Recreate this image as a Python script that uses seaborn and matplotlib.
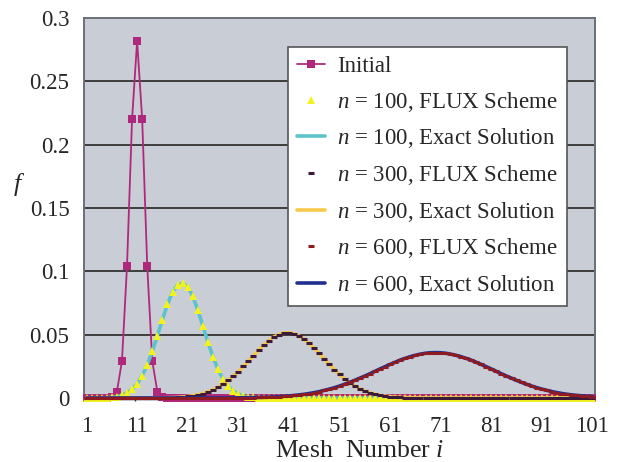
import numpy as np
import pandas as pd
import matplotlib
matplotlib.use("Agg")
import matplotlib.pyplot as plt
import seaborn as sns

# ---------------- data ----------------
mesh = list(range(1, 102))
xtick_labels = ["1", "11", "21", "31", "41", "51", "61", "71", "81", "91", "101"]
ytick_values = [0, 0.05, 0.1, 0.15, 0.2, 0.25, 0.3]
ytick_labels = ["0", "0.05", "0.1", "0.15", "0.2", "0.25", "0.3"]

initial = [
    0, 0, 0, 0, 0, 0.0005, 0.005, 0.029, 0.104, 0.220,
    0.282, 0.220, 0.104, 0.029, 0.005, 0.0005, 0, 0, 0, 0,
    0, 0, 0, 0, 0, 0, 0, 0, 0, 0,
    0, 0, 0, 0, 0, 0, 0, 0, 0, 0,
    0, 0, 0, 0, 0, 0, 0, 0, 0, 0,
    0, 0, 0, 0, 0, 0, 0, 0, 0, 0,
    0, 0, 0, 0, 0, 0, 0, 0, 0, 0,
    0, 0, 0, 0, 0, 0, 0, 0, 0, 0,
    0, 0, 0, 0, 0, 0, 0, 0, 0, 0,
    0, 0, 0, 0, 0, 0, 0, 0, 0, 0,
    0,
]

exact_100 = [
    0, 0, 0, 0.0001, 0.0002, 0.0005, 0.0011, 0.0021, 0.0039, 0.0068,
    0.0113, 0.0177, 0.0262, 0.0369, 0.0491, 0.0619, 0.0740, 0.0838, 0.0890, 0.0905,
    0.0880, 0.0803, 0.0694, 0.0568, 0.0440, 0.0324, 0.0225, 0.0149, 0.0093, 0.0055,
    0.0031, 0.0016, 0.0008, 0.0004, 0.0002, 0.0001, 0, 0, 0, 0,
    0, 0, 0, 0, 0, 0, 0, 0, 0, 0,
    0, 0, 0, 0, 0, 0, 0, 0, 0, 0,
    0, 0, 0, 0, 0, 0, 0, 0, 0, 0,
    0, 0, 0, 0, 0, 0, 0, 0, 0, 0,
    0, 0, 0, 0, 0, 0, 0, 0, 0, 0,
    0, 0, 0, 0, 0, 0, 0, 0, 0, 0,
    0,
]

exact_300 = [
    0, 0, 0, 0, 0, 0, 0, 0, 0, 0,
    0, 0, 0, 0, 0, 0.0001, 0.0002, 0.0003, 0.0005, 0.0008,
    0.0012, 0.0018, 0.0025, 0.0035, 0.0048, 0.0065, 0.0085, 0.0109, 0.0138, 0.0171,
    0.0208, 0.0249, 0.0291, 0.0334, 0.0377, 0.0416, 0.0451, 0.0480, 0.0501, 0.0513,
    0.0515, 0.0507, 0.0489, 0.0464, 0.0431, 0.0393, 0.0352, 0.0309, 0.0266, 0.0224,
    0.0186, 0.0151, 0.0120, 0.0094, 0.0072, 0.0054, 0.0040, 0.0029, 0.0021, 0.0014,
    0.0010, 0.0006, 0.0004, 0.0003, 0.0002, 0.0001, 0, 0, 0, 0,
    0, 0, 0, 0, 0, 0, 0, 0, 0, 0,
    0, 0, 0, 0, 0, 0, 0, 0, 0, 0,
    0, 0, 0, 0, 0, 0, 0, 0, 0, 0,
    0,
]

exact_600 = [
    0, 0, 0, 0, 0, 0, 0, 0, 0, 0,
    0, 0, 0, 0, 0, 0, 0, 0, 0, 0,
    0, 0, 0, 0, 0, 0, 0, 0, 0, 0.0001,
    0.0001, 0.0002, 0.0002, 0.0003, 0.0004, 0.0005, 0.0006, 0.0008, 0.0010, 0.0013,
    0.0016, 0.0020, 0.0024, 0.0029, 0.0035, 0.0042, 0.0050, 0.0060, 0.0070, 0.0081,
    0.0094, 0.0108, 0.0123, 0.0139, 0.0156, 0.0173, 0.0191, 0.0210, 0.0229, 0.0247,
    0.0265, 0.0282, 0.0299, 0.0313, 0.0326, 0.0337, 0.0346, 0.0353, 0.0357, 0.0358,
    0.0357, 0.0353, 0.0346, 0.0337, 0.0326, 0.0313, 0.0299, 0.0282, 0.0265, 0.0247,
    0.0229, 0.0210, 0.0191, 0.0173, 0.0156, 0.0139, 0.0123, 0.0108, 0.0094, 0.0081,
    0.0070, 0.0060, 0.0050, 0.0042, 0.0035, 0.0029, 0.0024, 0.0020, 0.0016, 0.0013,
    0.0011,
]

# FLUX scheme results coincide with the exact solutions in the picture
flux_100 = list(exact_100)
flux_300 = list(exact_300)
flux_600 = list(exact_600)

labels = [
    "Initial",
    "$n$ = 100, FLUX Scheme",
    "$n$ = 100, Exact Solution",
    "$n$ = 300, FLUX Scheme",
    "$n$ = 300, Exact Solution",
    "$n$ = 600, FLUX Scheme",
    "$n$ = 600, Exact Solution",
]

# ---------------- style ----------------
sns.set_style("ticks")
plt.rcParams["font.family"] = ["Liberation Serif", "DejaVu Serif"]
plt.rcParams["mathtext.fontset"] = "custom"
plt.rcParams["mathtext.rm"] = "Liberation Serif"
plt.rcParams["mathtext.it"] = "Liberation Serif:italic"

FS = 16.5
fig = plt.figure(figsize=(6.19, 4.62), dpi=100)
ax = fig.add_axes([84 / 619, 1 - 400.5 / 462, (595 - 84) / 619, (400.5 - 18) / 462])
ax.set_facecolor("#c9cdd5")

df_init = pd.DataFrame({"i": mesh, "f": initial})
df_e100 = pd.DataFrame({"i": mesh, "f": exact_100})
df_f100 = pd.DataFrame({"i": mesh, "f": flux_100})
df_e300 = pd.DataFrame({"i": mesh, "f": exact_300})
df_f300 = pd.DataFrame({"i": mesh, "f": flux_300})
df_e600 = pd.DataFrame({"i": mesh, "f": exact_600})
df_f600 = pd.DataFrame({"i": mesh, "f": flux_600})

c_init = "#b0287c"
c_f100 = "#f2f21e"
c_e100 = "#5ec2cc"
c_f300 = "#3b1a3c"
c_e300 = "#f6c94c"
c_f600 = "#8e1b22"
c_e600 = "#203090"

sns.lineplot(data=df_init, x="i", y="f", ax=ax, color=c_init, lw=1.3,
             marker="s", markersize=5.5, markeredgewidth=0,
             markerfacecolor=c_init, label=labels[0], zorder=3, clip_on=False)
sns.lineplot(data=df_e100, x="i", y="f", ax=ax, color=c_e100, lw=2.6,
             label=labels[2], zorder=4)
sns.lineplot(data=df_f100, x="i", y="f", ax=ax, color=c_f100, linestyle="none",
             marker="^", markersize=6, markeredgewidth=0,
             markerfacecolor=c_f100, label=labels[1], zorder=5, clip_on=False)
sns.lineplot(data=df_e300, x="i", y="f", ax=ax, color=c_e300, lw=2.6,
             label=labels[4], zorder=6)
sns.lineplot(data=df_f300, x="i", y="f", ax=ax, color=c_f300, linestyle="none",
             marker="_", markersize=4, markeredgewidth=2.2,
             markeredgecolor=c_f300, label=labels[3], zorder=7, clip_on=False)
sns.lineplot(data=df_e600, x="i", y="f", ax=ax, color=c_e600, lw=2.6,
             label=labels[6], zorder=8)
sns.lineplot(data=df_f600, x="i", y="f", ax=ax, color=c_f600, linestyle="none",
             marker="_", markersize=4, markeredgewidth=2.2,
             markeredgecolor=c_f600, label=labels[5], zorder=9, clip_on=False)

# axes
ax.set_xlim(0.5, 101.5)
ax.set_ylim(-0.002, 0.3)
ax.set_xticks([int(t) for t in xtick_labels])
ax.set_xticklabels(xtick_labels, fontsize=FS)
ax.set_xticks(np.arange(10.5, 101, 10), minor=True)
ax.tick_params(axis="x", which="major", length=0, pad=11)
ax.tick_params(axis="x", which="minor", direction="in", length=3.5,
               width=1, color="#333333")
ax.set_yticks(ytick_values)
ax.set_yticklabels(ytick_labels, fontsize=FS)
ax.tick_params(axis="y", length=0, pad=10.5)
ax.grid(False)
for yv in ytick_values[1:-1]:
    ax.axhline(yv, color="#333333", lw=1.3, zorder=1)

for s in ["left", "right", "top", "bottom"]:
    ax.spines[s].set_color("#6a6f78")
    ax.spines[s].set_linewidth(1.4)
ax.spines["bottom"].set_visible(False)

ax.set_xlabel("Mesh  Number $i$", fontsize=18.5)
ax.xaxis.set_label_coords(0.54, -0.104)
ax.set_ylabel("$f$", fontsize=FS + 2, rotation=0, va="center", ha="center")
ax.yaxis.set_label_coords(-0.128, 0.566)

handles, labs = ax.get_legend_handles_labels()
hmap = dict(zip(labs, handles))
leg = ax.legend([hmap[l] for l in labels], labels, loc="upper right",
                bbox_to_anchor=(0.945, 0.924), borderaxespad=0,
                fontsize=FS, frameon=True, fancybox=False, framealpha=1,
                edgecolor="#555555", facecolor="white", numpoints=1,
                handlelength=1.2, handletextpad=0.55, labelspacing=0.55,
                borderpad=0.4)
leg.get_frame().set_linewidth(1.2)
leg.set_zorder(20)

fig.savefig("out.png", dpi=100)
